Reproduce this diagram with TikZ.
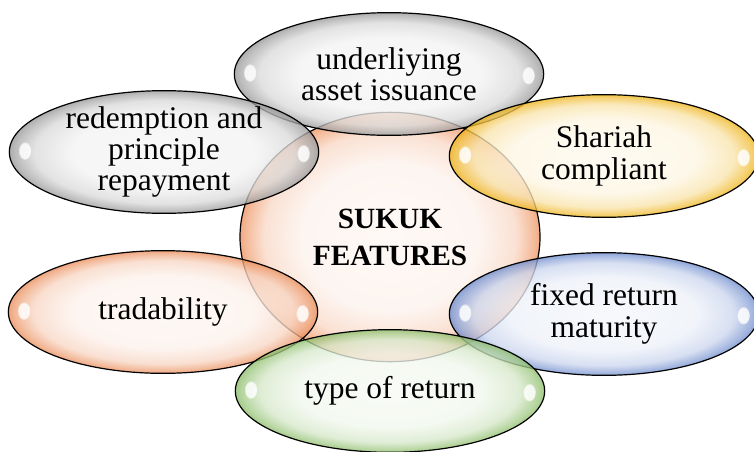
\documentclass[tikz,border=0pt]{standalone}
\usepackage{fontspec}
\setmainfont{Liberation Serif}
\usetikzlibrary{shapes.geometric,fadings}

\definecolor{rimgray}{RGB}{150,150,150}
\definecolor{rimgold}{RGB}{238,178,20}
\definecolor{rimorange}{RGB}{234,140,88}
\definecolor{rimblue}{RGB}{108,138,205}
\definecolor{rimgreen}{RGB}{138,188,102}
\definecolor{rimpeach}{RGB}{240,160,115}
\colorlet{bubblecol}{rimgray}

% glossy fill: pale middle, saturated rim
\pgfdeclareradialshading[bubblecol]{bubble}{\pgfpointorigin}{%
  color(0bp)=(bubblecol!7!white); color(15bp)=(bubblecol!12!white);
  color(21bp)=(bubblecol!35!white); color(24bp)=(bubblecol!80!white);
  color(25bp)=(bubblecol); color(50bp)=(bubblecol)}

\begin{document}
\begin{tikzpicture}[x=0.75pt,y=-0.75pt,
    feature/.style={ellipse,draw,line width=0.9pt,shade,shading=bubble,
      /utils/exec={\colorlet{bubblecol}{#1}},
      fill opacity=0.78,text opacity=1,
      minimum width=232pt,minimum height=92pt,inner sep=0pt,inner ysep=-4pt,
      align=center,font=\fontsize{23.6}{23.6}\selectfont},
    core/.style={feature=rimpeach,fill opacity=0.9,
      minimum width=225pt,minimum height=187pt,
      font=\fontsize{22}{27.7}\selectfont\bfseries},
    gloss/.style={white,opacity=0.85,
      path fading=circle with fuzzy edge 20 percent}]
\useasboundingbox (0,0) rectangle (754,451);

\node[core] (sukuk) at (390,237) {SUKUK\\FEATURES};

\node[feature=rimgray]   (asset)     at (389,74)  {underliying\\asset issuance};
\node[feature=rimgray]   (redeem)    at (164,152) {redemption and\\principle\\repayment};
\node[feature=rimgold]   (shariah)   at (604,156) {Shariah\\compliant};
\node[feature=rimorange] (trade)     at (163,312) {tradability};
\node[feature=rimblue]   (fixed)     at (604,314) {fixed return\\maturity};
\node[feature=rimgreen]  (returns)   at (390,391) {type of return};

% small white glints at both ends
\foreach \n in {asset,redeem,shariah,trade,fixed,returns}{
  \fill[gloss] ([xshift=12pt,yshift=1pt]\n.west) ellipse (5pt and 7pt);
  \fill[gloss] ([xshift=-12pt,yshift=-1pt]\n.east) ellipse (5pt and 7pt);
}
\end{tikzpicture}
\end{document}
